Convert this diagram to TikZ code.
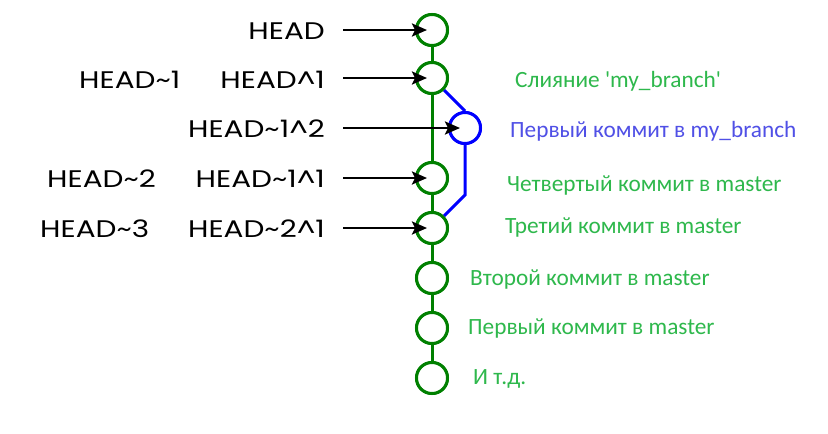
\documentclass[tikz,border=0pt]{standalone}
\usepackage{fontspec}
\setmainfont{Carlito}
\newfontfamily\headfont[FakeStretch=1.23]{Poppins}
\usetikzlibrary{arrows.meta}
\definecolor{gline}{RGB}{0,128,0}
\definecolor{gtext}{RGB}{46,184,76}
\definecolor{btext}{RGB}{80,80,230}
\begin{document}
\begin{tikzpicture}[x=1pt,y=-1pt,
  commit/.style={circle,draw=gline,line width=3pt,minimum size=31pt,inner sep=0pt,fill=white},
  bcommit/.style={commit,draw=blue},
  gedge/.style={draw=gline,line width=3pt},
  bedge/.style={draw=blue,line width=3pt},
  arr/.style={draw=black,line width=2.6pt,-{Stealth[length=15pt,width=13pt,inset=3pt]},shorten >=5pt},
  ref/.style={font=\headfont\fontsize{24}{28}\selectfont,inner sep=0pt},
  glabel/.style={font=\fontsize{23.3}{27}\selectfont,text=gtext,anchor=west,inner sep=0pt},
  blabel/.style={glabel,text=btext}]
\useasboundingbox (0,0) rectangle (828,434);
\fill[white] (0,0) rectangle (828,434);
% commits
\node[commit] (c1) at (432,30) {};
\node[commit] (c2) at (432,78) {};
\node[bcommit] (b) at (465,128) {};
\node[commit] (c3) at (432,178) {};
\node[commit] (c4) at (432,228) {};
\node[commit] (c5) at (432,278) {};
\node[commit] (c6) at (432,328) {};
\node[commit] (c7) at (432,378) {};
\coordinate (bk) at (465,195);
% connectors
\draw[gedge] (c1) -- (c2) -- (c3) -- (c4) -- (c5) -- (c6) -- (c7);
\draw[bedge] (c2.-45) -- (b.north);
\draw[bedge] (b.south) -- (bk) -- (c4.45);
% redraw circles on top
\node[commit] at (c1) {};
\node[commit] at (c2) {};
\node[bcommit] at (b) {};
\node[commit] at (c3) {};
\node[commit] at (c4) {};
\node[commit] at (c5) {};
\node[commit] at (c6) {};
\node[commit] at (c7) {};
% arrow starts
\coordinate (s1) at (343,30);
\coordinate (s2) at (343,78);
\coordinate (s3) at (343,128);
\coordinate (s4) at (343,178);
\coordinate (s5) at (343,228);
\draw[arr] (s1) -- (c1.center);
\draw[arr] (s2) -- (c2.center);
\draw[arr] (s3) -- (b.center);
\draw[arr] (s4) -- (c3.center);
\draw[arr] (s5) -- (c4.center);
% ref names
\node[ref,anchor=east] (r1) at (325,31) {HEAD};
\node[ref,anchor=east] (r2) at (325,80) {HEAD\textasciicircum 1};
\node[ref,anchor=east] (r3) at (325,129) {HEAD\textasciitilde 1\textasciicircum 2};
\node[ref,anchor=east] (r4) at (325,179) {HEAD\textasciitilde 1\textasciicircum 1};
\node[ref,anchor=east] (r5) at (325,229) {HEAD\textasciitilde 2\textasciicircum 1};
\node[ref,anchor=west] (l2) at (79,80) {HEAD\textasciitilde 1};
\node[ref,anchor=west] (l4) at (47,179) {HEAD\textasciitilde 2};
\node[ref,anchor=west] (l5) at (40,229) {HEAD\textasciitilde 3};
% commit labels
\node[glabel] (t1) at (515,81) {Слияние \textquotesingle my\_branch\textquotesingle};
\node[blabel] (t2) at (510,131) {Первый коммит в my\_branch};
\node[glabel] (t3) at (507,186) {Четвертый коммит в master};
\node[glabel] (t4) at (505,228) {Третий коммит в master};
\node[glabel] (t5) at (470,280) {Второй коммит в master};
\node[glabel] (t6) at (468,329) {Первый коммит в master};
\node[glabel] (t7) at (473,379) {И т.д.};
\end{tikzpicture}
\end{document}
